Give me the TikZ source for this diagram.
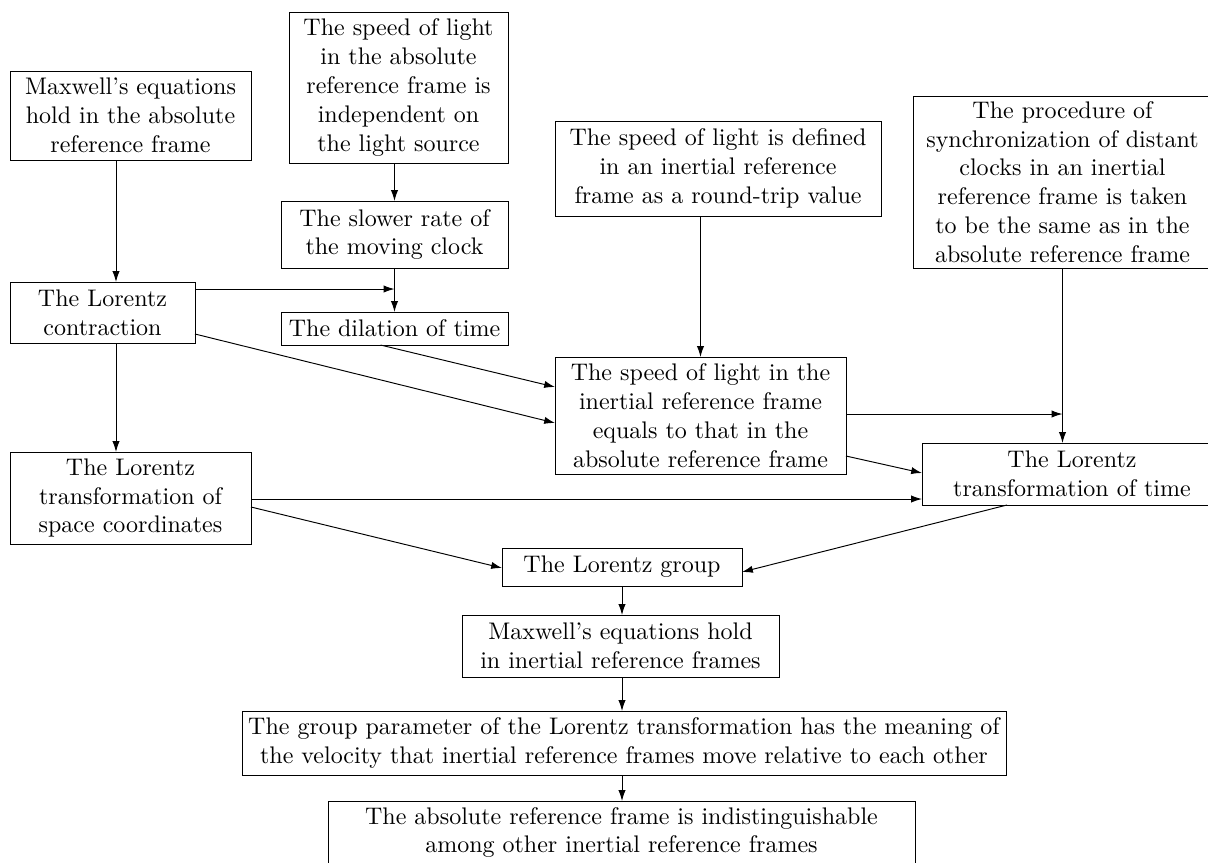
\documentclass[tikz,border=0pt]{standalone}
\usetikzlibrary{calc,arrows.meta}
\def\pxu{0.4167pt}
\tikzset{
  bx/.style={draw, align=center, inner sep=0pt, outer sep=0pt, line width=0.4pt},
  arr/.style={-{Latex[length=4.5pt,width=3pt]}, line width=0.4pt},
}
\newcommand{\mybox}[6]{\node[bx, minimum width={(#4-#2)*\pxu}, minimum height={(#5-#3)*\pxu}] (#1) at ({(#2+#4)/2},{(#3+#5)/2}) {#6};}
\begin{document}
\begin{tikzpicture}[x=\pxu, y=-\pxu]
\useasboundingbox (0,0) rectangle (1208,862);
\clip (0,0) rectangle (1208,862);
\coordinate (xa) at (116,0);
\mybox{max}{10}{71}{251}{160}{Maxwell's equations\\hold in the absolute\\reference frame}
\mybox{spd}{289}{12}{508}{163}{The speed of light\\in the absolute\\reference frame is\\independent on\\the light source}
\mybox{slow}{281}{201}{508}{268}{The slower rate of\\the moving clock}
\mybox{con}{10}{282}{195}{343}{The Lorentz\\contraction}
\mybox{dil}{281}{312}{508}{345}{The dilation of time}
\mybox{rt}{555}{121}{881}{216}{The speed of light is defined\\in an inertial reference\\frame as a round-trip value}
\mybox{proc}{913}{96}{1212}{268}{The procedure of\\synchronization of distant\\clocks in an inertial\\reference frame is taken\\to be the same as in the\\absolute reference frame}
\mybox{eq}{555}{357}{846}{474}{The speed of light in the\\inertial reference frame\\equals to that in the\\absolute reference frame}
\mybox{sp}{10}{452}{251}{544}{The Lorentz\\transformation of\\space coordinates}
\mybox{time}{922}{443}{1222}{505}{The Lorentz\\transformation of time}
\mybox{grp}{502}{548}{742}{586}{The Lorentz group}
\mybox{mi}{462}{615}{779}{677}{Maxwell's equations hold\\in inertial reference frames}
\mybox{gp}{242}{711}{1006}{775}{The group parameter of the Lorentz transformation has the meaning of\\the velocity that inertial reference frames move relative to each other}
\mybox{abs}{328}{801}{915}{864}{The absolute reference frame is indistinguishable\\among other inertial reference frames}
% connectors
\draw[arr] (max.south -| xa) -- (con.north -| xa);
\draw[arr] (con.south -| xa) -- (sp.north -| xa);
\draw[arr] (spd.south -| slow.north) -- (slow.north);
\draw[arr] (slow.south) -- (dil.north);
\coordinate (c1) at ($(con.north east)+(0,7)$);
\coordinate (j1) at (c1 -| slow.south);
\draw[arr] (c1) -- (j1);
\draw[arr] ($(dil.south)+(-14,0)$) -- ($(eq.north west)+(0,30)$);
\draw[arr] ($(con.south east)+(0,-9)$) -- ($(eq.north west)+(0,66)$);
\draw[arr] (rt.south -| eq.north) -- (eq.north);
\draw[arr] (proc.south) -- (proc.south |- time.north);
\coordinate (c2) at ($(eq.north east)+(0,57)$);
\coordinate (j2) at (c2 -| proc.south);
\draw[arr] (c2) -- (j2);
\draw[arr] ($(eq.south east)+(0,-18)$) -- ($(time.north west)+(0,30)$);
\coordinate (c3) at ($(sp.north east)+(0,47)$);
\draw[arr] (c3) -- (c3 -| time.west);
\draw[arr] ($(sp.north east)+(0,55)$) -- ($(grp.north west)+(0,20)$);
\draw[arr] ($(time.south west)+(85,0)$) -- ($(grp.north east)+(0,24)$);
\draw[arr] (grp.south) -- (grp.south |- mi.north);
\draw[arr] (mi.south -| grp.south) -- (gp.north -| grp.south);
\draw[arr] (gp.south -| grp.south) -- (abs.north -| grp.south);
\end{tikzpicture}
\end{document}
